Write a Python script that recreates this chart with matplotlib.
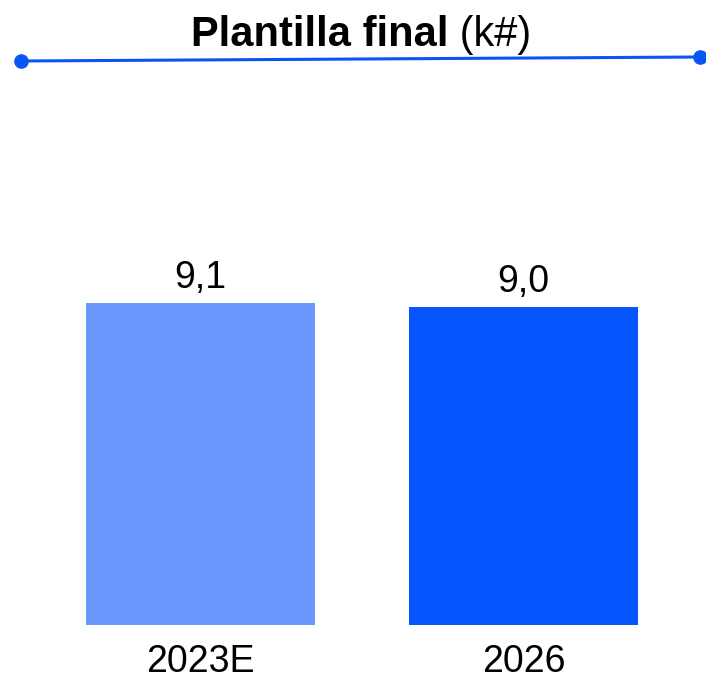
import matplotlib
matplotlib.use("Agg")
import matplotlib.pyplot as plt

categories = ["2023E", "2026"]
values = [9.1, 9.0]
value_labels = ["9,1", "9,0"]
colors = ["#6B98FF", "#0755FF"]

plt.rcParams['font.family'] = ['Liberation Sans', 'DejaVu Sans']

W, H = 706, 680
fig = plt.figure(figsize=(W / 100, H / 100), dpi=100)
ax = fig.add_axes([0, 0, 1, 1])

x = list(range(len(categories)))
ax.bar(x, values, width=0.709, color=colors)

px_per_x = 323.0
c0 = 200.5
ax.set_xlim(-c0 / px_per_x, (W - c0) / px_per_x)
py = 35.36
base = 625
ax.set_ylim(-(H - base) / py, base / py)
ax.axis('off')

for xi, v, lab in zip(x, values, value_labels):
    ax.annotate(lab, (xi, v), xytext=(0, 10.8), textcoords='offset points',
                ha='center', va='baseline', fontsize=27, color='black')
for xi, cat in zip(x, categories):
    ax.annotate(cat, (xi, 0), xytext=(0, -33.5), textcoords='offset points',
                ha='center', va='baseline', fontsize=27, color='black')

# Title
fs = 30
t1 = fig.text(0, 0, "Plantilla final", fontsize=fs, fontweight='bold',
              ha='left', va='baseline')
t2 = fig.text(0, 0, " (k#)", fontsize=fs, ha='left', va='baseline')
fig.canvas.draw()
r = fig.canvas.get_renderer()
w1 = t1.get_window_extent(r).width
w2 = t2.get_window_extent(r).width
start = (190 + 532) / 2 - (w1 + w2) / 2
t1.set_position((start / W, 1 - 46 / H))
t2.set_position(((start + w1) / W, 1 - 46 / H))

# Header line with dots
fig.add_artist(plt.Line2D([21 / W, 700 / W], [1 - 61 / H, 1 - 57 / H],
                          color="#0A55F5", lw=2.2, marker='o', markersize=9.5,
                          transform=fig.transFigure))

fig.savefig("out.png", dpi=100)
